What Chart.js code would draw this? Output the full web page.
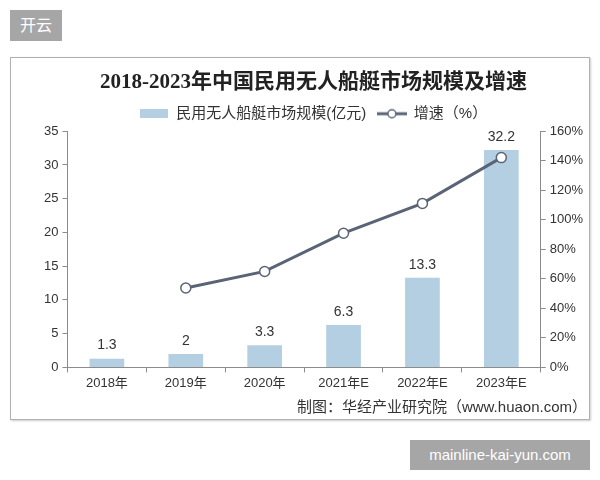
<!DOCTYPE html>
<html>
<head>
<meta charset="utf-8">
<script src="https://cdn.jsdelivr.net/npm/chart.js@4"></script>
<style>
  body { margin: 0; background: #fff; width: 600px; height: 480px; position: relative; overflow: hidden; font-family: "Liberation Sans", "Noto Sans CJK SC", sans-serif; }
  .tag { position: absolute; background: #a6a6a6; color: #fff; font-size: 16px; }
  #tag1 { left: 10px; top: 10px; width: 52px; height: 31px; line-height: 31px; text-align: center; }
  #tag2 { left: 410px; top: 440px; width: 180px; height: 30px; line-height: 30px; text-align: center; font-size: 15px; }
  #frame { position: absolute; left: 10px; top: 57px; width: 578px; height: 361px; border: 1px solid #b0b0b0; box-shadow: 1px 1px 2px #ccc; }
  #wrap { position: absolute; left: 0; top: 0; width: 578px; height: 361px; }
</style>
</head>
<body>
<div class="tag" id="tag1">开云</div>
<div id="frame"><div id="wrap"><canvas id="myChart"></canvas></div></div>
<div class="tag" id="tag2">mainline-kai-yun.com</div>
<script>
const years = ["2018年", "2019年", "2020年", "2021年E", "2022年E", "2023年E"];
const marketSize = [1.3, 2, 3.3, 6.3, 13.3, 32.2];
const growth = [null, 53.8, 65, 90.9, 111.1, 142.1];

const barColor = "#b5cfe2";
const lineColor = "#5b6477";
const textColor = "#333";
const axisColor = "#8c8c8c";
const sansFont = "'Liberation Sans', 'Noto Sans CJK SC', sans-serif";

// legend swatches
function swatchBar() {
  const c = document.createElement("canvas");
  c.width = 28; c.height = 9;
  const g = c.getContext("2d");
  g.fillStyle = barColor;
  g.fillRect(0, 0, 28, 9);
  return c;
}
function swatchLine() {
  const c = document.createElement("canvas");
  c.width = 30; c.height = 12;
  const g = c.getContext("2d");
  g.strokeStyle = lineColor;
  g.lineWidth = 3;
  g.beginPath(); g.moveTo(0, 6); g.lineTo(30, 6); g.stroke();
  g.fillStyle = "#fff";
  g.lineWidth = 1.5;
  g.beginPath(); g.arc(15, 6, 4, 0, Math.PI * 2); g.fill(); g.stroke();
  return c;
}

const barLabels = {
  id: "barLabels",
  afterDatasetsDraw(chart) {
    const { ctx } = chart;
    const meta = chart.getDatasetMeta(1);
    ctx.save();
    ctx.font = "14px 'Liberation Sans', Arial, sans-serif";
    ctx.fillStyle = textColor;
    ctx.textAlign = "center";
    ctx.textBaseline = "bottom";
    meta.data.forEach((bar, i) => {
      ctx.fillText(String(marketSize[i]), bar.x, bar.y - 6);
    });
    ctx.restore();
  }
};

const ctx = document.getElementById("myChart");

new Chart(ctx, {
  data: {
    labels: years,
    datasets: [
      {
        type: "line",
        label: "增速（%）",
        data: growth,
        yAxisID: "y1",
        borderColor: lineColor,
        borderWidth: 3,
        pointRadius: 5,
        pointBackgroundColor: "#fff",
        pointBorderColor: lineColor,
        pointBorderWidth: 1.5,
        tension: 0,
        order: 1,
      },
      {
        type: "bar",
        label: "民用无人船艇市场规模(亿元)",
        data: marketSize,
        yAxisID: "y",
        backgroundColor: barColor,
        barPercentage: 0.44,
        categoryPercentage: 1,
        order: 2,
      },
    ],
  },
  plugins: [barLabels],
  options: {
    responsive: true,
    maintainAspectRatio: false,
    animation: false,
    layout: { padding: { left: 29, right: 2, top: 0, bottom: 0 } },
    plugins: {
      title: {
        display: true,
        text: "2018-2023年中国民用无人船艇市场规模及增速",
        color: "#222",
        font: { size: 21, weight: "bold", family: "'Liberation Serif', 'DejaVu Serif', 'Noto Sans CJK SC', serif" },
        padding: { top: 12, bottom: 0 },
      },
      subtitle: {
        display: true,
        position: "bottom",
        align: "end",
        text: "制图：华经产业研究院（www.huaon.com）",
        color: "#333",
        font: { size: 15, family: sansFont },
        padding: { top: 5, bottom: 2 },
      },
      legend: {
        display: true,
        labels: {
          usePointStyle: true,
          pointStyleWidth: 29,
          color: textColor,
          font: { size: 15, family: sansFont },
          padding: 11,
          generateLabels() {
            return [
              { text: "民用无人船艇市场规模(亿元)", pointStyle: swatchBar(), fontColor: textColor, lineWidth: 0, datasetIndex: 1 },
              { text: "增速（%）", pointStyle: swatchLine(), fontColor: textColor, lineWidth: 0, datasetIndex: 0 },
            ];
          },
        },
      },
      tooltip: { enabled: false },
    },
    scales: {
      x: {
        offset: true,
        grid: { display: true, offset: true, drawOnChartArea: false, drawTicks: true, tickLength: 5, color: axisColor },
        border: { color: axisColor },
        ticks: {
          color: textColor,
          font: { size: 13, family: sansFont },
          maxRotation: 0,
          padding: 3,
        },
      },
      y: {
        position: "left",
        min: 0,
        max: 35,
        ticks: {
          stepSize: 5,
          color: textColor,
          font: { size: 13, family: sansFont },
          padding: 4,
        },
        grid: { drawOnChartArea: false, drawTicks: true, tickLength: 5, color: axisColor },
        border: { color: axisColor },
      },
      y1: {
        position: "right",
        min: 0,
        max: 160,
        ticks: {
          stepSize: 20,
          color: textColor,
          font: { size: 13, family: sansFont },
          padding: 4,
          callback: (v) => v + "%",
        },
        grid: { drawOnChartArea: false, drawTicks: true, tickLength: 5, color: axisColor },
        border: { color: axisColor },
      },
    },
  },
});
</script>
</body>
</html>
